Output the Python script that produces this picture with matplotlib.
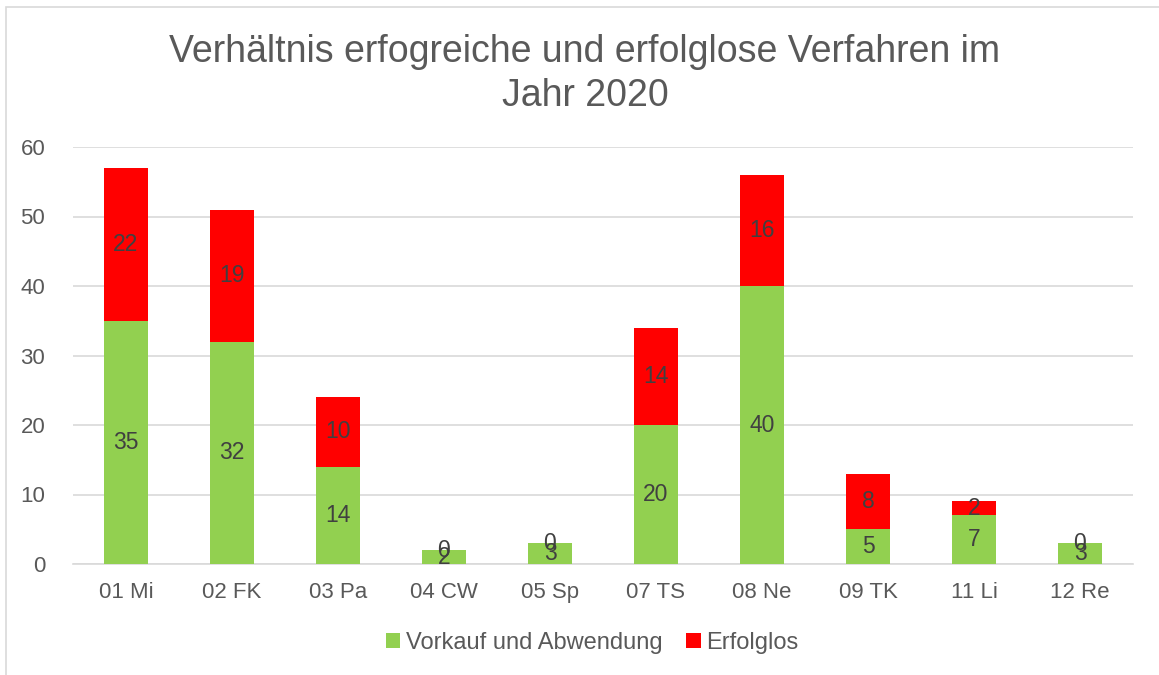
import matplotlib
matplotlib.use("Agg")
import matplotlib.pyplot as plt
from matplotlib.patches import Rectangle

categories = ["01 Mi", "02 FK", "03 Pa", "04 CW", "05 Sp", "07 TS", "08 Ne", "09 TK", "11 Li", "12 Re"]
vorkauf = [35, 32, 14, 2, 3, 20, 40, 5, 7, 3]
erfolglos = [22, 19, 10, 0, 0, 14, 16, 8, 2, 0]
series_names = ["Vorkauf und Abwendung", "Erfolglos"]
title = "Verhältnis erfogreiche und erfolglose Verfahren im\nJahr 2020"

plt.rcParams['font.family'] = ['Liberation Sans', 'DejaVu Sans']

fig = plt.figure(figsize=(11.59, 6.75), dpi=100)
fig.patches.append(Rectangle((6/1159, -0.01), 1.02, 1 - 7/675 + 0.01, transform=fig.transFigure,
                             fill=False, edgecolor="#d9d9d9", linewidth=1.2))
ax = fig.add_axes([73/1159, 111/675, 1060/1159, 417/675])

x = range(len(categories))
b1 = ax.bar(x, vorkauf, width=0.41, color="#92d050", label=series_names[0], zorder=3)
b2 = ax.bar(x, erfolglos, width=0.41, bottom=vorkauf, color="#ff0000", label=series_names[1], zorder=3)
ax.bar_label(b1, label_type="center", fontsize=16.5, color="#404040")
ax.bar_label(b2, label_type="center", fontsize=16.5, color="#404040")

ax.set_ylim(0, 60)
ax.set_xlim(-0.5, len(categories) - 0.5)
ax.set_yticks(range(0, 61, 10))
ax.set_xticks(list(x))
ax.set_xticklabels(categories)
ax.yaxis.grid(True, color="#d9d9d9", linewidth=1.2, zorder=0)
ax.set_axisbelow(True)
for s in ["top", "right", "left"]:
    ax.spines[s].set_visible(False)
ax.spines["bottom"].set_color("#d9d9d9")
ax.spines["bottom"].set_linewidth(1.2)
ax.tick_params(axis="both", length=0, labelsize=16, labelcolor="#595959")
ax.tick_params(axis="x", pad=13)
ax.tick_params(axis="y", pad=20)

fig.text(585/1159, 1 - 74/675, title, ha="center", va="center", fontsize=27,
         color="#595959", linespacing=1.3)

ax.legend(loc="center", bbox_to_anchor=(0.49, -0.19), ncol=2, frameon=False,
          fontsize=17, labelcolor="#595959", handlelength=0.6, handleheight=0.6,
          handletextpad=0.25, columnspacing=1.0)

fig.savefig("out.png", dpi=100)
